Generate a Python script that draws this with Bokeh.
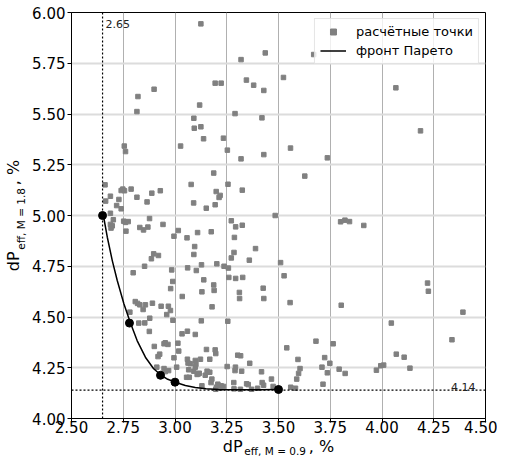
from bokeh.plotting import figure
from bokeh.models import Label, Span, FixedTicker, PrintfTickFormatter, Range1d, LinearAxis
from bokeh.embed import file_html
from bokeh.resources import INLINE

# ---------------- data ----------------
calc_x = [
    3.125, 3.436, 3.670, 3.319, 3.524, 3.345, 3.194, 3.223, 3.380, 4.067,
    2.899, 3.429, 2.821, 2.816, 3.119, 3.290, 3.420, 3.091, 3.093, 3.125,
    3.138, 4.186, 3.234, 3.027, 3.558, 2.755, 2.761, 3.253, 3.319, 3.736,
    3.429, 3.627, 3.187, 2.662, 3.078, 3.256, 2.665, 3.325, 3.199, 3.218,
    3.213, 2.929, 2.688, 2.729, 2.740, 2.748, 2.756, 2.788, 2.816, 2.888,
    2.865, 2.718, 2.740, 3.194, 3.151, 3.090, 2.688, 2.702, 2.688, 2.691,
    2.697, 2.752, 2.761, 2.774, 2.763, 2.830, 2.848, 2.869, 2.877, 2.942,
    3.484, 3.800, 3.821, 3.843, 3.912, 3.272, 3.293, 3.325, 3.175, 3.109,
    3.016, 2.995, 3.058, 3.287, 3.095, 3.389, 3.285, 3.272, 3.091, 3.359,
    2.897, 2.920, 2.886, 3.510, 2.853, 3.061, 3.202, 3.237, 3.258, 3.128,
    3.103, 2.984, 2.798, 3.527, 3.139, 3.260, 3.293, 3.327, 2.989, 4.220,
    4.224, 3.187, 2.979, 3.189, 3.426, 3.130, 3.311, 3.312, 3.429, 3.035,
    3.556, 2.808, 2.819, 2.830, 2.846, 2.857, 2.891, 2.933, 2.968, 3.179,
    3.803, 2.978, 2.960, 2.782, 2.878, 2.825, 2.990, 3.127, 3.255, 4.045,
    4.391, 4.338,
    3.540, 3.681, 3.764, 3.594, 3.723, 3.748, 4.069, 4.107, 4.135, 3.973,
    3.994, 4.008, 3.710, 3.793, 3.736, 3.822, 3.604, 3.597, 3.588, 3.715,
    3.559, 3.582, 3.466, 3.474,
    2.854, 2.876, 3.034, 3.060, 3.098, 2.900, 2.947, 2.966, 2.953, 3.014,
    3.018, 2.918, 2.926, 2.995, 3.060, 3.074, 3.063, 3.098, 3.101, 3.123,
    3.168, 3.194, 3.197, 3.152, 3.303, 3.317, 3.361, 2.912, 2.947, 2.953,
    2.969, 3.008, 3.066, 3.091, 3.098, 3.117, 3.146, 3.155, 3.168, 3.056,
    3.069, 3.107, 3.114, 3.178, 3.174, 3.207, 3.223, 3.200, 3.252, 3.292,
    3.290, 3.322, 3.418, 3.130, 3.234, 3.218, 3.197, 3.284, 3.316, 3.346,
    3.354, 3.370, 3.421, 3.428, 3.399, 3.285,
]
calc_y = [
    5.944, 5.801, 5.793, 5.768, 5.680, 5.667, 5.652, 5.652, 5.642, 5.629,
    5.622, 5.616, 5.586, 5.512, 5.544, 5.502, 5.481, 5.479, 5.430, 5.437,
    5.378, 5.417, 5.381, 5.342, 5.332, 5.342, 5.315, 5.322, 5.279, 5.284,
    5.300, 5.194, 5.209, 5.151, 5.153, 5.154, 5.071, 5.125, 5.118, 5.099,
    5.089, 5.122, 5.095, 5.079, 5.123, 5.130, 5.122, 5.130, 5.090, 5.110,
    5.067, 5.049, 5.033, 5.053, 5.036, 5.062, 5.011, 4.979, 4.956, 4.938,
    4.949, 4.972, 4.966, 4.970, 4.923, 4.941, 4.929, 4.943, 4.985, 4.956,
    5.000, 4.969, 4.977, 4.970, 4.951, 4.974, 4.944, 4.952, 4.920, 4.916,
    4.926, 4.898, 4.890, 4.892, 4.847, 4.837, 4.818, 4.791, 4.808, 4.780,
    4.811, 4.803, 4.787, 4.768, 4.750, 4.742, 4.762, 4.750, 4.741, 4.757,
    4.729, 4.732, 4.718, 4.703, 4.683, 4.695, 4.690, 4.695, 4.675, 4.667,
    4.627, 4.658, 4.640, 4.631, 4.642, 4.624, 4.621, 4.591, 4.591, 4.601,
    4.571, 4.576, 4.567, 4.560, 4.537, 4.560, 4.568, 4.553, 4.553, 4.550,
    4.558, 4.532, 4.512, 4.524, 4.494, 4.470, 4.484, 4.481, 4.479, 4.470,
    4.524, 4.388,
    4.348, 4.381, 4.368, 4.291, 4.300, 4.272, 4.317, 4.302, 4.248, 4.238,
    4.260, 4.263, 4.253, 4.243, 4.225, 4.222, 4.246, 4.222, 4.194, 4.169,
    4.154, 4.149, 4.194, 4.158,
    4.471, 4.429, 4.417, 4.430, 4.414, 4.355, 4.368, 4.365, 4.373, 4.371,
    4.332, 4.305, 4.317, 4.299, 4.292, 4.270, 4.273, 4.286, 4.267, 4.292,
    4.292, 4.338, 4.320, 4.340, 4.312, 4.309, 4.272, 4.253, 4.246, 4.231,
    4.236, 4.253, 4.240, 4.233, 4.253, 4.223, 4.213, 4.233, 4.228, 4.203,
    4.203, 4.217, 4.220, 4.194, 4.177, 4.169, 4.161, 4.154, 4.256, 4.253,
    4.236, 4.233, 4.230, 4.161, 4.158, 4.149, 4.144, 4.177, 4.144, 4.171,
    4.167, 4.144, 4.177, 4.164, 4.149, 4.146,
]

# Pareto-optimal points
pareto_x = [2.65, 2.78, 2.93, 3.00, 3.50]
pareto_y = [5.00, 4.47, 4.213, 4.179, 4.143]

# Pareto front curve
front_x = [2.654, 2.673, 2.697, 2.721, 2.753, 2.784, 2.817, 2.857, 2.897,
           2.933, 2.965, 3.001, 3.050, 3.098, 3.150, 3.210, 3.300, 3.400, 3.497]
front_y = [5.000, 4.893, 4.778, 4.680, 4.565, 4.473, 4.384, 4.302, 4.245,
           4.213, 4.193, 4.179, 4.163, 4.153, 4.147, 4.143, 4.142, 4.142, 4.143]

# reference levels
x_min_level = 2.65
y_min_level = 4.14

x_ticks = [2.50, 2.75, 3.00, 3.25, 3.50, 3.75, 4.00, 4.25, 4.50]
y_ticks = [4.00, 4.25, 4.50, 4.75, 5.00, 5.25, 5.50, 5.75, 6.00]

legend_points = "расчётные точки"
legend_front = "фронт Парето"

# axis titles: main part "dP ... , %" and subscript part
NBSP = "\u00a0"
main_title = "dP" + NBSP * 13 + ", %"
x_sub = "eff, M = 0.9" + NBSP * 2
y_sub = "eff, M = 1.8" + NBSP * 2

FONT = "DejaVu Sans"

# ---------------- figure ----------------
p = figure(width=497, height=460, output_backend="svg", toolbar_location=None,
           x_range=Range1d(x_ticks[0], x_ticks[-1]),
           y_range=Range1d(y_ticks[0], y_ticks[-1]),
           min_border_left=69, min_border_right=12,
           min_border_top=12, min_border_bottom=42)
p.background_fill_color = "white"
p.border_fill_color = "white"
p.outline_line_color = "black"
p.outline_line_width = 1
p.outline_line_alpha = 1

xa = p.xaxis[0]
ya = p.yaxis[0]
for ax, ticks in ((xa, x_ticks), (ya, y_ticks)):
    ax.ticker = FixedTicker(ticks=ticks)
    ax.formatter = PrintfTickFormatter(format="%.2f")
    ax.major_label_text_font = FONT
    ax.major_label_text_font_size = "15px"
    ax.major_label_text_color = "black"
    ax.axis_line_color = "black"
    ax.major_tick_line_color = "black"
    ax.major_tick_out = 4
    ax.major_tick_in = 0
    ax.minor_tick_line_color = None
    ax.minor_tick_out = 0
    ax.minor_tick_in = 0
    ax.axis_label_text_font = FONT
    ax.axis_label_text_font_style = "normal"
    ax.axis_label_text_color = "black"

xa.major_label_standoff = -2
xa.axis_label = main_title
xa.axis_label_text_font_size = "16px"
xa.axis_label_standoff = 1

ya.major_label_standoff = 2
ya.axis_label = y_sub
ya.axis_label_text_font_size = "10.5px"
ya.axis_label_standoff = 2


def extra_axis(label, size, standoff):
    return LinearAxis(axis_label=label, ticker=FixedTicker(ticks=[]),
                      axis_line_color=None, major_tick_line_color=None,
                      minor_tick_line_color=None, major_tick_out=0, major_tick_in=0,
                      minor_tick_out=0, minor_tick_in=0, major_label_standoff=0,
                      axis_label_standoff=standoff, axis_label_text_font=FONT,
                      axis_label_text_font_size=size, axis_label_text_font_style="normal",
                      axis_label_text_color="black")


p.add_layout(extra_axis(x_sub, "10.5px", -14), "below")
p.add_layout(extra_axis(main_title, "16px", -10), "left")

p.xgrid.ticker = FixedTicker(ticks=x_ticks)
p.ygrid.ticker = FixedTicker(ticks=y_ticks)
p.xgrid.grid_line_color = "#b0b0b0"
p.xgrid.grid_line_width = 1
p.ygrid.grid_line_color = "#dcdcdc"
p.ygrid.grid_line_width = 2

# reference dotted lines
p.add_layout(Span(location=x_min_level, dimension="height", line_color="black",
                  line_width=1.2, line_dash="2 2"))
p.add_layout(Span(location=y_min_level, dimension="width", line_color="black",
                  line_width=1.2, line_dash="2 2"))

# scatter of computed points
p.scatter(calc_x, calc_y, marker="square", size=4.5, fill_color="#808080",
          line_color="#808080", legend_label=legend_points)

# Pareto front
p.line(front_x, front_y, line_color="black", line_width=1.5, legend_label=legend_front)
p.scatter(pareto_x, pareto_y, marker="circle", size=8, fill_color="black",
          line_color="black")

# level annotations
p.add_layout(Label(x=x_min_level, x_units="data", x_offset=3, y=395, y_units="screen",
                   text=f"{x_min_level:.2f}", text_font=FONT, text_font_size="11px",
                   text_color="#222222", text_baseline="alphabetic"))
p.add_layout(Label(x=404, x_units="screen", y=32, y_units="screen",
                   text=f"{y_min_level:.2f}", text_font=FONT, text_font_size="11px",
                   text_color="#222222", text_align="right", text_baseline="alphabetic"))

# legend
lg = p.legend[0]
lg.location = "top_right"
lg.margin = 6
lg.padding = 5
lg.spacing = 4
lg.glyph_width = 26
lg.glyph_height = 15
lg.label_height = 15
lg.label_standoff = 10
lg.label_text_font = FONT
lg.label_text_font_size = "13px"
lg.label_text_color = "black"
lg.border_line_color = "#cccccc"
lg.border_line_width = 1
lg.background_fill_color = "white"
lg.background_fill_alpha = 0.8

open("out.html", "w").write(file_html(p, INLINE))
